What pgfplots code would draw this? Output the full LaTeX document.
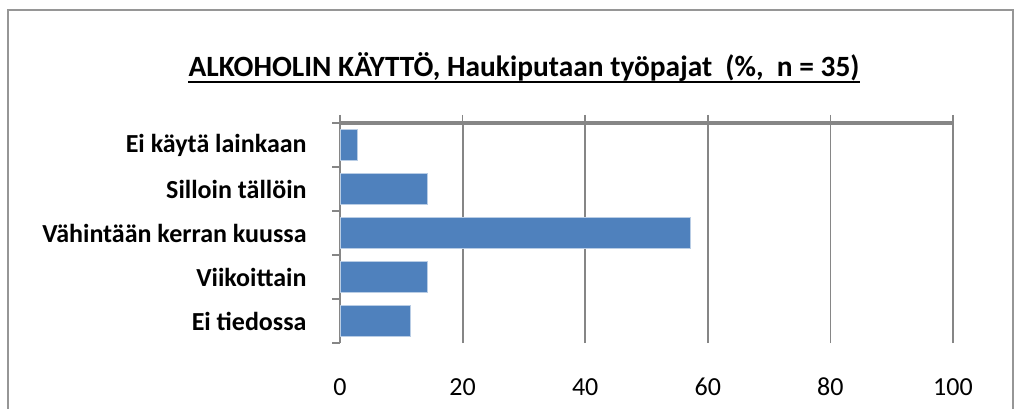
\documentclass[border=0pt]{standalone}
\usepackage{fontspec}
\setmainfont{Carlito}
\usepackage{pgfplots}
\pgfplotsset{compat=1.18}
\definecolor{barblue}{RGB}{79,129,189}
\definecolor{axgray}{RGB}{134,134,134}
\definecolor{bordergray}{RGB}{150,150,150}
\begin{document}
\begin{tikzpicture}[x=1pt,y=1pt]
\useasboundingbox (0,0) rectangle (1023,408);
\draw[bordergray, line width=1.5pt] (8,-5) -- (8,398) -- (1013,398) -- (1013,-5);
% title
\node[inner sep=0pt, anchor=base, font=\fontsize{29.4}{34}\selectfont\bfseries] (t) at (524,331)
  {ALKOHOLIN KÄYTTÖ, Haukiputaan työpajat\ \ (\%,\ \ n = 35)};
\draw[line width=2pt] ([yshift=-5pt]t.base west) -- ([yshift=-5pt]t.base east);
% bars
\begin{axis}[at={(340pt,65pt)}, anchor=south west, scale only axis,
  width=613pt, height=220pt,
  xmin=0, xmax=100, ymin=-0.5, ymax=4.5,
  xbar, bar width=0.72,
  axis x line*=bottom, axis y line*=left,
  x axis line style={draw=none},
  y axis line style={-, axgray, line width=2.5pt},
  xtick={0,20,...,100}, xmajorgrids,
  major x grid style={axgray, line width=1.8pt},
  x tick style={draw=none},
  /pgf/number format/assume math mode=true,
  xticklabel style={font=\fontsize{26}{30}\selectfont, anchor=base, yshift=-48pt},
  ytick={0,...,4},
  yticklabels={Ei tiedossa, Viikoittain, Vähintään kerran kuussa, Silloin tällöin, Ei käytä lainkaan},
  major y tick style={draw=none},
  minor ytick={-0.5,0.5,...,4.5},
  minor y tick style={axgray, line width=1.5pt},
  tick align=outside, minor tick length=8pt,
  yticklabel style={font=\fontsize{26}{30}\selectfont\bfseries, anchor=east, inner sep=0pt, xshift=-29pt},
]
\addplot[fill=barblue, draw=barblue!40!white, line width=1pt]
  coordinates {(11.43,0) (14.29,1) (57.14,2) (14.29,3) (2.86,4)};
\end{axis}
% top axis line
\begin{axis}[at={(340pt,65pt)}, anchor=south west, scale only axis,
  width=613pt, height=220pt,
  xmin=0, xmax=100, ymin=0, ymax=1,
  axis x line*=top, axis y line=none,
  xtick={0,20,...,100}, xticklabels={},
  tick align=outside, major tick length=8pt,
  x tick style={axgray, line width=1.5pt},
  x axis line style={-, axgray, line width=3.5pt},
]
\end{axis}
\end{tikzpicture}
\end{document}
